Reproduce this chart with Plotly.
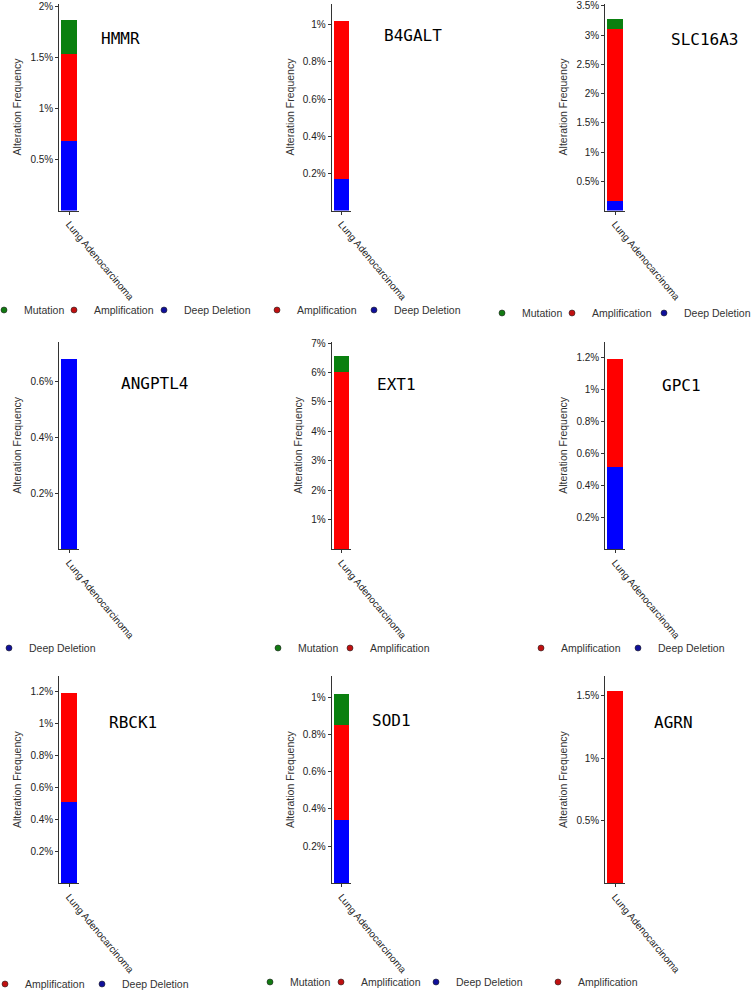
import plotly.graph_objects as go

# ---------------- data (alteration frequency, %) ----------------
genes = ["HMMR", "B4GALT", "SLC16A3", "ANGPTL4", "EXT1", "GPC1", "RBCK1", "SOD1", "AGRN"]
cancer_types = ["Lung Adenocarcinoma"]
deep_deletion = [0.68, 0.17, 0.17, 0.68, 0.0, 0.51, 0.51, 0.34, 0.0]
amplification = [0.85, 0.85, 2.93, 0.0, 6.03, 0.68, 0.68, 0.51, 1.54]
mutation = [0.34, 0.0, 0.18, 0.0, 0.52, 0.0, 0.0, 0.17, 0.0]
y_tick_steps = [0.5, 0.2, 0.5, 0.2, 1, 0.2, 0.2, 0.2, 0.5]
y_axis_max = [2.03, 1.115, 3.54, 0.743, 7.05, 1.297, 1.298, 1.115, 1.66]

series_names = ["Deep Deletion", "Amplification", "Mutation"]  # stack order bottom->top
series_values = [deep_deletion, amplification, mutation]
bar_colors = {"Deep Deletion": "#0000ff", "Amplification": "#ff0000", "Mutation": "#0a800f"}
dot_colors = {"Deep Deletion": "#10109a", "Amplification": "#c01010", "Mutation": "#127a12"}
legend_order = ["Mutation", "Amplification", "Deep Deletion"]

# ---------------- layout geometry (pixels) ----------------
W, H = 751, 992
col_left_px = [59.3, 331.7, 605.3]
axis_w_px = 19.5
row_top_px = [3.5, 341.7, 676.0]
row_bottom_px = [210.5, 549.0, 883.3]
title_pos_px = [(120, 39), (413, 36), (704.5, 40), (154.5, 383), (396, 384), (681, 385),
                (132.5, 722), (391.7, 720), (673.8, 722)]
# x of each legend dot (text begins 20 px to its right)
legend_dot_x_px = [[4, 74, 164], [277, 374], [502, 572, 664], [9], [278, 350],
                   [541, 638], [5, 102], [270, 341, 436], [558]]
legend_y_px = [310, 310, 313, 648, 648, 648, 984, 982, 982]

FONT = "Liberation Sans, Arial, sans-serif"
AX_COL = "#333333"

fig = go.Figure()
layout_updates = {}
annotations = []
legend_count = 0

for i, gene in enumerate(genes):
    r, c = divmod(i, 3)
    sfx = "" if i == 0 else str(i + 1)
    xa, ya = f"x{sfx}", f"y{sfx}"

    # stacked bars
    for sname, vals in zip(series_names, series_values):
        if vals[i] > 0:
            fig.add_trace(go.Bar(x=cancer_types, y=[vals[i]], name=sname,
                                 marker=dict(color=bar_colors[sname], line=dict(width=0)),
                                 xaxis=xa, yaxis=ya, showlegend=False))

    # legend entries (circle dots) for the series present in this panel
    present = [s for s in legend_order if series_values[series_names.index(s)][i] > 0]
    for k, sname in enumerate(present):
        legend_count += 1
        lid = "legend" if legend_count == 1 else f"legend{legend_count}"
        fig.add_trace(go.Scatter(x=[None], y=[None], mode="markers", name=sname,
                                 marker=dict(color=dot_colors[sname], size=6, symbol="circle",
                                             line=dict(width=0.6, color="#222")),
                                 xaxis=xa, yaxis=ya, legend=lid, showlegend=True,
                                 hoverinfo="skip"))
        lx = (legend_dot_x_px[i][k] - 20) / W
        ly = 1 - legend_y_px[i] / H
        layout_updates[lid] = dict(x=lx, y=ly, xanchor="left", yanchor="middle",
                                   orientation="h", bgcolor="rgba(0,0,0,0)",
                                   font=dict(family=FONT, size=10.5, color="#333"),
                                   itemwidth=30, borderwidth=0)

    # axes
    x0 = col_left_px[c]
    step = y_tick_steps[i]
    n = int(y_axis_max[i] / step + 1e-9)
    tickvals = [round(step * k, 4) for k in range(1, n + 1)]
    ticktext = [f"{v:g}%" for v in tickvals]
    layout_updates[f"xaxis{sfx}"] = dict(
        domain=[x0 / W, (x0 + axis_w_px) / W], anchor=ya, type="category",
        showline=True, linecolor=AX_COL, linewidth=1.2, ticks="outside", ticklen=3,
        tickcolor=AX_COL, tickangle=50, showgrid=False, zeroline=False,
        tickfont=dict(family=FONT, size=10, color="#222"))
    layout_updates[f"yaxis{sfx}"] = dict(
        domain=[1 - row_bottom_px[r] / H, 1 - row_top_px[r] / H], anchor=xa,
        range=[0, y_axis_max[i]], tickmode="array", tickvals=tickvals, ticktext=ticktext,
        showline=True, linecolor=AX_COL, linewidth=1.2, ticks="outside", ticklen=3,
        tickcolor=AX_COL, showgrid=False, zeroline=False,
        tickfont=dict(family=FONT, size=10, color="#222"),
        title=dict(text="Alteration Frequency", standoff=6,
                   font=dict(family=FONT, size=10.5, color="#333")))

    tx, ty = title_pos_px[i]
    annotations.append(dict(text=gene, x=tx / W, y=1 - ty / H, xref="paper", yref="paper",
                            xanchor="center", yanchor="middle", showarrow=False,
                            font=dict(family="DejaVu Sans Mono", size=16, color="#000")))

fig.update_layout(**layout_updates)
fig.update_layout(width=W, height=H, margin=dict(l=0, r=0, t=0, b=0, autoexpand=False),
                  barmode="stack", bargap=0.22, plot_bgcolor="white", paper_bgcolor="white",
                  annotations=annotations, showlegend=True)

fig.write_html("out.html", config={"displayModeBar": False},
               post_script="document.body.style.margin = '0';")
